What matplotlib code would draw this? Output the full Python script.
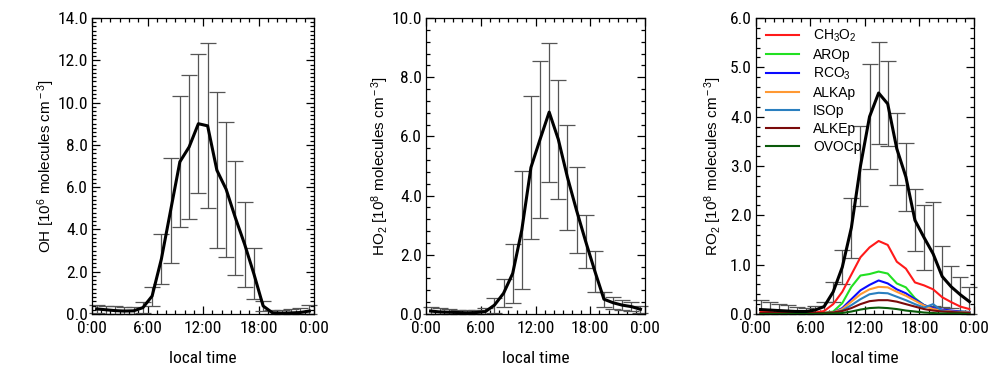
import numpy as np
import matplotlib
matplotlib.use("Agg")
import matplotlib.pyplot as plt
from matplotlib import font_manager
from matplotlib.ticker import MultipleLocator, FixedLocator, FormatStrFormatter

ttf = font_manager.fontManager.ttflist
names = {f.name for f in ttf}
REG = "Liberation Sans"
NARROW_FP = None
for cand in ["Liberation Sans Narrow", "Roboto Condensed", "Open Sans Condensed",
             "Noto Sans Condensed", "DejaVu Sans Condensed"]:
    if cand in names:
        NARROW_FP = font_manager.FontProperties(family=cand)
        break
if NARROW_FP is None:
    for f in ttf:
        if f.stretch in ("condensed", "semi-condensed", "extra-condensed") and f.style == "normal" \
                and f.weight in (400, "normal", "regular"):
            NARROW_FP = font_manager.FontProperties(fname=f.fname)
            break
if NARROW_FP is None:
    NARROW_FP = font_manager.FontProperties(family=REG)

plt.rcParams["font.family"] = [REG, "DejaVu Sans"]
plt.rcParams["mathtext.fontset"] = "custom"
plt.rcParams["mathtext.rm"] = REG
plt.rcParams["mathtext.it"] = REG + ":italic"

# ---------------- data ----------------
hours = np.arange(24) + 0.5
xtick_pos = [0, 6, 12, 18, 24]
xtick_labels = ["0:00", "6:00", "12:00", "18:00", "0:00"]

oh_mean = [0.24, 0.20, 0.16, 0.14, 0.15, 0.30, 0.85, 2.6, 4.9, 7.2, 7.9, 9.0,
           8.9, 6.8, 5.9, 4.55, 3.3, 1.9, 0.38, 0.06, 0.04, 0.05, 0.07, 0.14]
oh_err = [0.2, 0.2, 0.2, 0.2, 0.2, 0.25, 0.45, 1.2, 2.5, 3.1, 3.4, 3.3,
          3.9, 3.7, 3.2, 2.7, 2.0, 1.2, 0.25, 0.12, 0.15, 0.2, 0.22, 0.28]

ho2_mean = [0.10, 0.07, 0.06, 0.05, 0.04, 0.05, 0.08, 0.30, 0.70, 1.37, 2.84, 4.95,
            5.90, 6.82, 5.90, 4.62, 3.50, 2.45, 1.45, 0.50, 0.38, 0.30, 0.25, 0.16]
ho2_err = [0.15, 0.13, 0.12, 0.10, 0.08, 0.10, 0.12, 0.25, 0.48, 1.00, 1.98, 2.43,
           2.66, 2.35, 2.02, 1.78, 1.45, 0.90, 0.69, 0.25, 0.20, 0.18, 0.15, 0.12]

ro2_mean = [0.09, 0.08, 0.07, 0.06, 0.05, 0.05, 0.08, 0.15, 0.45, 0.95, 1.75, 3.0,
            4.0, 4.48, 4.26, 3.35, 2.78, 1.9, 1.55, 1.22, 0.76, 0.55, 0.39, 0.25]
ro2_err = [0.20, 0.17, 0.14, 0.12, 0.10, 0.08, 0.08, 0.10, 0.20, 0.35, 0.61, 0.82,
           1.06, 1.04, 0.86, 0.73, 0.69, 0.63, 0.66, 1.06, 0.62, 0.42, 0.35, 0.30]

ch3o2 = [0.04, 0.04, 0.03, 0.03, 0.03, 0.03, 0.03, 0.06, 0.20, 0.45, 0.80, 1.15,
         1.35, 1.48, 1.40, 1.06, 0.92, 0.64, 0.58, 0.50, 0.34, 0.24, 0.15, 0.10]
arop = [0.01, 0.01, 0.01, 0.01, 0.01, 0.01, 0.01, 0.02, 0.05, 0.22, 0.55, 0.78,
        0.81, 0.86, 0.82, 0.62, 0.54, 0.32, 0.18, 0.11, 0.08, 0.06, 0.05, 0.04]
rco3 = [0.01, 0.01, 0.01, 0.01, 0.01, 0.01, 0.01, 0.02, 0.03, 0.12, 0.30, 0.48,
        0.59, 0.68, 0.62, 0.50, 0.42, 0.30, 0.18, 0.12, 0.09, 0.07, 0.05, 0.04]
alkap = [0.01, 0.01, 0.01, 0.01, 0.01, 0.01, 0.01, 0.02, 0.03, 0.10, 0.25, 0.40,
         0.50, 0.55, 0.54, 0.45, 0.37, 0.27, 0.17, 0.10, 0.07, 0.05, 0.04, 0.03]
isop = [0.01, 0.01, 0.01, 0.01, 0.01, 0.01, 0.01, 0.01, 0.02, 0.07, 0.18, 0.30,
        0.40, 0.43, 0.42, 0.35, 0.28, 0.20, 0.13, 0.20, 0.06, 0.04, 0.03, 0.02]
alkep = [0.02, 0.02, 0.02, 0.02, 0.02, 0.02, 0.02, 0.02, 0.03, 0.06, 0.12, 0.20,
         0.26, 0.28, 0.28, 0.25, 0.20, 0.15, 0.10, 0.07, 0.05, 0.04, 0.03, 0.02]
ovocp = [0.00, 0.00, 0.00, 0.00, 0.00, 0.00, 0.00, 0.01, 0.01, 0.02, 0.05, 0.09,
         0.12, 0.13, 0.12, 0.10, 0.07, 0.05, 0.03, 0.02, 0.01, 0.01, 0.01, 0.00]

species = [
    ("CH$_3$O$_2$", ch3o2, "#ff1a1a"),
    ("AROp", arop, "#22e022"),
    ("RCO$_3$", rco3, "#0a0aff"),
    ("ALKAp", alkap, "#ff9933"),
    ("ISOp", isop, "#2a7fbf"),
    ("ALKEp", alkep, "#7a0a0a"),
    ("OVOCp", ovocp, "#0a5a0a"),
]

panels = [
    (oh_mean, oh_err, 14.0, 2.0, 0.2, r"OH [10$^{\rm 6}$ molecules cm$^{\rm -3}$]"),
    (ho2_mean, ho2_err, 10.0, 2.0, 0.4, r"HO$_{\rm 2}$ [10$^{\rm 8}$ molecules cm$^{\rm -3}$]"),
    (ro2_mean, ro2_err, 6.0, 1.0, 0.2, r"RO$_{\rm 2}$ [10$^{\rm 8}$ molecules cm$^{\rm -3}$]"),
]
ylabel_pads = [0.5, 0.5, 4]

# ---------------- figure ----------------
W, H = 995, 368
fig = plt.figure(figsize=(W / 100, H / 100), dpi=100)
lefts = [92, 426, 756]
widths = [222, 219, 218]
top_px, bot_px = 18, 314

axes = []
for i, (mean, err, ymax, major, minor, ylab) in enumerate(panels):
    ax = fig.add_axes([lefts[i] / W, 1 - bot_px / H, widths[i] / W, (bot_px - top_px) / H])
    axes.append(ax)
    mean = np.asarray(mean)
    err = np.asarray(err)
    lower = np.minimum(err, mean)
    eb = ax.errorbar(hours, mean, yerr=[lower, err], fmt="none", ecolor="#555555",
                     elinewidth=0.9, capsize=5.8, capthick=0.9, zorder=2)
    for art in eb.lines[1] + eb.lines[2]:
        art.set_clip_on(False)
    if i == 2:
        for lab, vals, col in species:
            ax.plot(hours, vals, color=col, lw=1.5, label=lab, zorder=3)
    ax.plot(hours, mean, color="black", lw=2.2, zorder=4)

    ax.set_xlim(0, 24)
    ax.set_ylim(0, ymax)
    ax.xaxis.set_major_locator(FixedLocator(xtick_pos))
    ax.set_xticklabels(xtick_labels)
    ax.xaxis.set_minor_locator(MultipleLocator(1))
    ax.yaxis.set_major_locator(MultipleLocator(major))
    ax.yaxis.set_minor_locator(MultipleLocator(minor))
    ax.yaxis.set_major_formatter(FormatStrFormatter("%.1f"))
    ax.tick_params(which="both", direction="in", top=True, right=True, width=0.9)
    ax.tick_params(which="major", length=5.5)
    ax.tick_params(axis="x", which="major", pad=5)
    ax.tick_params(axis="y", which="major", pad=3)
    ax.tick_params(which="minor", length=2.8)
    for lbl in ax.get_xticklabels() + ax.get_yticklabels():
        lbl.set_fontproperties(NARROW_FP)
        lbl.set_fontsize(12.5)
    for sp in ax.spines.values():
        sp.set_linewidth(0.9)
    xl = ax.set_xlabel("local time", labelpad=11)
    xl.set_fontproperties(NARROW_FP)
    xl.set_fontsize(12.5)
    ax.set_ylabel(ylab, fontsize=11, labelpad=ylabel_pads[i])

leg = axes[2].legend(loc="upper left", frameon=False, fontsize=10,
                     handlelength=2.4, handletextpad=1.0, labelspacing=0.28,
                     borderaxespad=0.3, bbox_to_anchor=(0.0, 1.0))

fig.savefig("out.png", dpi=100)
